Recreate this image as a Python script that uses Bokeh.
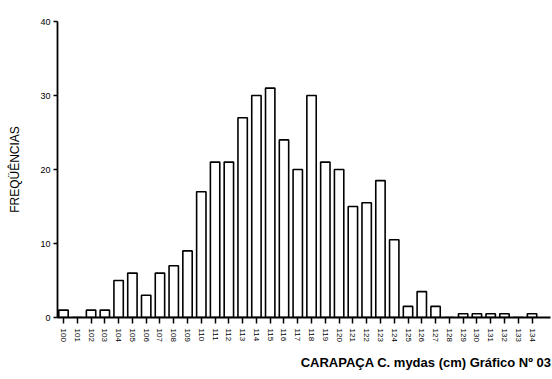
from bokeh.plotting import figure
from bokeh.models import Title, FixedTicker, ColumnDataSource
from bokeh.embed import file_html
from bokeh.resources import INLINE

# Carapace length classes (cm) and frequencies
classes = list(range(100, 135))
tick_labels = [str(c) for c in classes]
freqs = [1, 0, 1, 1, 5, 6, 3, 6, 7, 9,
         17, 21, 21, 27, 30, 31, 24, 20, 30, 21,
         20, 15, 15.5, 18.5, 10.5, 1.5, 3.5, 1.5, 0, 0.5,
         0.5, 0.5, 0.5, 0, 0.5]
y_ticks = [0, 10, 20, 30, 40]

x_title = "CARAPAÇA C. mydas (cm) Gráfico Nº 03"
y_title = "FREQÜÊNCIAS"

FONT = "Liberation Sans"

p = figure(width=552, height=379, output_backend="svg", toolbar_location=None,
           x_range=(99.565, 135.34), y_range=(0, 40),
           min_border_left=57, min_border_right=2,
           min_border_top=21, min_border_bottom=62)
p.outline_line_color = None
p.grid.grid_line_color = None
p.background_fill_color = "white"
p.border_fill_color = "white"

src = ColumnDataSource(dict(x=classes, top=freqs))
p.vbar(x="x", top="top", bottom=0, width=0.68, source=src,
       fill_color="white", line_color="black", line_width=1.6)

# x axis
xa = p.xaxis[0]
xa.ticker = FixedTicker(ticks=classes)
xa.major_label_overrides = {c: t for c, t in zip(classes, tick_labels)}
xa.major_label_orientation = "vertical"
xa.major_label_text_font = FONT
xa.major_label_text_font_size = "8px"
xa.major_label_text_color = "black"
xa.major_label_standoff = 5
xa.major_tick_out = 6
xa.major_tick_in = 0
xa.minor_tick_out = 0
xa.minor_tick_in = 0
xa.axis_line_width = 2
xa.major_tick_line_width = 1.5
xa.axis_line_color = "black"

# y axis
ya = p.yaxis[0]
ya.ticker = FixedTicker(ticks=y_ticks)
ya.major_label_text_font = FONT
ya.major_label_text_font_size = "9px"
ya.major_label_text_color = "black"
ya.major_label_standoff = 3
ya.major_tick_out = 4
ya.major_tick_in = 0
ya.minor_tick_out = 0
ya.minor_tick_in = 0
ya.axis_line_width = 1.8
ya.major_tick_line_width = 1.5
ya.axis_line_color = "black"
ya.axis_label = y_title
ya.axis_label_text_font = FONT
ya.axis_label_text_font_size = "12px"
ya.axis_label_text_font_style = "normal"
ya.axis_label_text_color = "black"
ya.axis_label_standoff = 15

# x title, right aligned below the axis
p.add_layout(Title(text=x_title, align="right", text_font=FONT,
                   text_font_size="13px", text_font_style="bold",
                   text_color="black", standoff=16, offset=-1), "below")

open("out.html", "w").write(file_html(p, INLINE))
